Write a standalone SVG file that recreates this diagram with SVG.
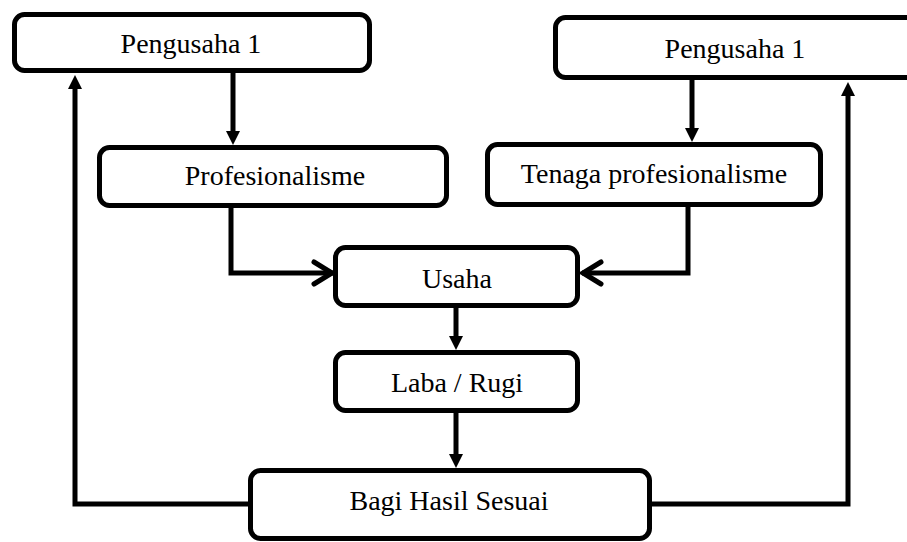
<svg xmlns="http://www.w3.org/2000/svg" width="907" height="542" viewBox="0 0 907 542">
<style>
.box{fill:#fff;stroke:#000;stroke-width:5}
.lbl{font-family:"Liberation Serif","Times New Roman",serif;font-size:28px;fill:#000;text-anchor:middle}
.con{fill:none;stroke:#000;stroke-width:5;stroke-linejoin:miter}
</style>
<defs>
<marker id="tri" markerUnits="userSpaceOnUse" markerWidth="14" markerHeight="14" refX="6" refY="7" orient="auto" overflow="visible">
<path d="M0,0 L14,7 L0,14 z" fill="#000"/>
</marker>
<marker id="chev" markerUnits="userSpaceOnUse" markerWidth="26" markerHeight="28" refX="22" refY="13" orient="auto" overflow="visible">
<path d="M3,2 L21,13 L3,24" fill="none" stroke="#000" stroke-width="5" stroke-linecap="round"/>
</marker>
</defs>
<rect width="907" height="542" fill="#fff"/>
<g id="connectors">
<path class="con" d="M233,73 V137" marker-end="url(#tri)"/>
<path class="con" d="M692,80 V134" marker-end="url(#tri)"/>
<path class="con" d="M231,208 V273 H333" marker-end="url(#chev)"/>
<path class="con" d="M688,207 V273 H582" marker-end="url(#chev)"/>
<path class="con" d="M456,308 V342" marker-end="url(#tri)"/>
<path class="con" d="M456,413 V460" marker-end="url(#tri)"/>
<path class="con" d="M250,504 H75 V83" marker-end="url(#tri)"/>
<path class="con" d="M650,504 H848 V90" marker-end="url(#tri)"/>
</g>
<g id="pengusaha1-left">
<rect class="box" x="14.5" y="14.5" width="355" height="56" rx="10"/>
<text class="lbl" x="191" y="53">Pengusaha 1</text>
</g>
<g id="profesionalisme">
<rect class="box" x="99.5" y="147.5" width="347" height="58" rx="10"/>
<text class="lbl" x="275" y="185">Profesionalisme</text>
</g>
<g id="pengusaha1-right">
<rect class="box" x="555.5" y="17.5" width="400" height="60" rx="10"/>
<text class="lbl" x="735" y="58">Pengusaha 1</text>
</g>
<g id="tenaga">
<rect class="box" x="487.5" y="144.5" width="333" height="60" rx="10"/>
<text class="lbl" x="654" y="183">Tenaga profesionalisme</text>
</g>
<g id="usaha">
<rect class="box" x="335.5" y="247.5" width="242" height="58" rx="10"/>
<text class="lbl" x="457" y="288">Usaha</text>
</g>
<g id="laba-rugi">
<rect class="box" x="335.5" y="352.5" width="242" height="58" rx="10"/>
<text class="lbl" x="457" y="392">Laba / Rugi</text>
</g>
<g id="bagi-hasil">
<rect class="box" x="250.5" y="470.5" width="399" height="68" rx="10"/>
<text class="lbl" x="449" y="510">Bagi Hasil Sesuai</text>
</g>
</svg>
